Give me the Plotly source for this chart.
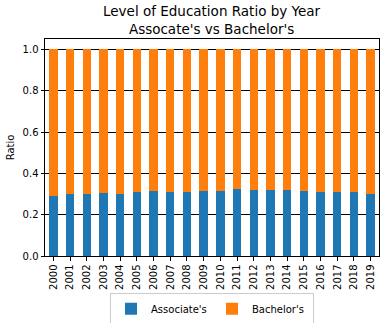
import plotly.graph_objects as go

years = [str(y) for y in range(2000, 2020)]
associates = [0.290, 0.298, 0.298, 0.303, 0.298, 0.308, 0.313, 0.308, 0.308, 0.313,
              0.313, 0.322, 0.317, 0.317, 0.317, 0.313, 0.308, 0.308, 0.308, 0.298]
bachelors = [round(1 - a, 3) for a in associates]

fig = go.Figure()
fig.add_trace(go.Bar(x=years, y=associates, name="Associate's",
                     marker=dict(color="#1f77b4", line=dict(width=0))))
fig.add_trace(go.Bar(x=years, y=bachelors, name="Bachelor's",
                     marker=dict(color="#ff7f0e", line=dict(width=0))))

fig.update_layout(
    barmode="stack",
    bargap=0.5,
    width=386, height=323,
    margin=dict(l=45, r=7, t=38.5, b=67, autoexpand=False),
    paper_bgcolor="white", plot_bgcolor="white",
    font=dict(family="DejaVu Sans", size=10, color="black"),
    annotations=[dict(text="Level of Education Ratio by Year<br>Assocate's vs Bachelor's",
                      xref="paper", yref="paper", x=0.5, y=0.998,
                      xanchor="center", yanchor="bottom", showarrow=False,
                      font=dict(size=13.5, color="black"))],
    legend=dict(orientation="h", x=0.5, xanchor="center", y=-0.172, yanchor="top",
                bgcolor="white", bordercolor="#cccccc", borderwidth=1,
                font=dict(size=10), traceorder="normal", entrywidth=56),
    showlegend=True,
)
fig.update_xaxes(type="category", range=[-0.5, 19.5], tickangle=-90, automargin=False,
                 showline=True, mirror=True, linecolor="black", linewidth=1,
                 ticks="outside", ticklen=3.5, tickcolor="black", showgrid=False,
                 tickfont=dict(size=10))
fig.update_yaxes(range=[0, 1.05], tickvals=[0, 0.2, 0.4, 0.6, 0.8, 1.0], tickformat=".1f",
                 automargin=False,
                 showline=True, mirror=True, linecolor="black", linewidth=1,
                 ticks="outside", ticklen=3.5, tickcolor="black",
                 showgrid=True, gridcolor="black", gridwidth=1, layer="above traces",
                 zeroline=False, title=dict(text="Ratio", font=dict(size=10), standoff=6),
                 tickfont=dict(size=10))

fig.write_html("out.html")
